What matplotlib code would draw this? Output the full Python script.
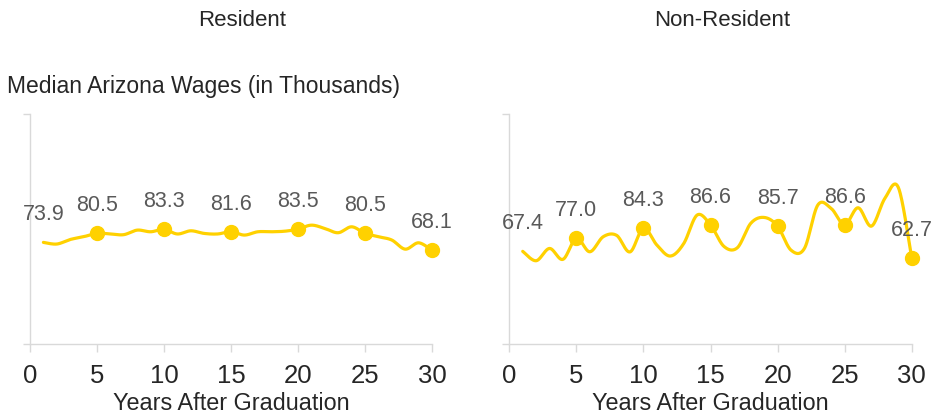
import numpy as np
import matplotlib
matplotlib.use("Agg")
import matplotlib.pyplot as plt

plt.rcParams['font.family'] = ['Liberation Sans', 'DejaVu Sans']

years = list(range(1, 31))
resident = [73.9, 72.7, 76.0, 78.0, 80.5, 80.0, 79.5, 82.8, 81.6, 83.3,
            80.0, 82.3, 80.4, 80.0, 81.6, 79.2, 81.6, 81.6, 82.0, 83.5,
            86.4, 84.0, 80.9, 85.2, 80.5, 78.0, 75.6, 69.0, 73.6, 68.1]
non_resident = [67.4, 60.6, 69.5, 61.6, 77.0, 67.1, 78.0, 79.0, 67.0, 84.3,
                72.0, 64.0, 73.0, 93.7, 86.6, 71.0, 70.0, 87.7, 92.0, 85.7,
                68.3, 69.5, 101.0, 98.5, 86.6, 99.0, 85.7, 105.8, 113.8, 62.7]
label_years = [1, 5, 10, 15, 20, 25, 30]
marker_years = [5, 10, 15, 20, 25, 30]
panel_titles = ["Resident", "Non-Resident"]
y_title = "Median Arizona Wages (in Thousands)"
x_title = "Years After Graduation"
xticks = [0, 5, 10, 15, 20, 25, 30]

LINE = "#FFD100"
SPINE = "#D9D9D9"
LABEL = "#595959"
TEXT = "#262626"


def smooth(x, y, n=30):
    x = np.asarray(x, float)
    y = np.asarray(y, float)
    px = np.concatenate([[x[0]], x, [x[-1]]])
    py = np.concatenate([[y[0]], y, [y[-1]]])
    t = np.linspace(0, 1, n)
    xs, ys = [], []
    for i in range(1, len(px) - 2):
        p0x, p3x = px[i], px[i + 1]
        p0y, p3y = py[i], py[i + 1]
        c1x = p0x + (px[i + 1] - px[i - 1]) / 6
        c1y = p0y + (py[i + 1] - py[i - 1]) / 6
        c2x = p3x - (px[i + 2] - px[i]) / 6
        c2y = p3y - (py[i + 2] - py[i]) / 6
        b0 = (1 - t) ** 3
        b1 = 3 * (1 - t) ** 2 * t
        b2 = 3 * (1 - t) * t ** 2
        b3 = t ** 3
        xs.append(b0 * p0x + b1 * c1x + b2 * c2x + b3 * p3x)
        ys.append(b0 * p0y + b1 * c1y + b2 * c2y + b3 * p3y)
    return np.concatenate(xs), np.concatenate(ys)


W, H = 931, 415
fig = plt.figure(figsize=(W / 100, H / 100), dpi=100)

panels = [(30, 432, resident), (509.3, 911.7, non_resident)]
title_x = [242.5, 722]
bottom_px, top_px = 344.3, 114

for idx, (lpx, rpx, vals) in enumerate(panels):
    ax = fig.add_axes([lpx / W, (H - bottom_px) / H, (rpx - lpx) / W,
                       (bottom_px - top_px) / H])
    ax.set_xlim(0, 30)
    ax.set_ylim(0, 167)
    sx, sy = smooth(years, vals)
    ax.plot(sx, sy, color=LINE, lw=2.3, solid_capstyle='round', clip_on=False)
    my = [vals[years.index(k)] for k in marker_years]
    ax.plot(marker_years, my, 'o', color=LINE, ms=10, clip_on=False)
    for k in label_years:
        v = vals[years.index(k)]
        ax.annotate(f"{v:.1f}", (k, v), xytext=(0, 16), textcoords='offset points',
                    ha='center', va='baseline', fontsize=15.5, color=LABEL,
                    annotation_clip=False)
    for s in ['top', 'right']:
        ax.spines[s].set_visible(False)
    for s in ['left', 'bottom']:
        ax.spines[s].set_color(SPINE)
        ax.spines[s].set_linewidth(1)
    ax.set_xticks(xticks)
    ax.set_xticklabels([str(t) for t in xticks])
    ax.set_yticks([0, 167])
    ax.set_yticklabels([])
    ax.tick_params(axis='x', length=6, width=1, color=SPINE, labelsize=18.5,
                   labelcolor=TEXT, pad=8)
    ax.tick_params(axis='y', length=5, width=1, color=SPINE)
    ax.set_xlabel(x_title, fontsize=16.8, color=TEXT, labelpad=3)
    fig.text(title_x[idx] / W, 1 - 21 / H, panel_titles[idx], ha='center',
             va='center', fontsize=16, color=TEXT)

fig.text(7 / W, 1 - 87 / H, y_title, ha='left', va='center', fontsize=16.5,
         color=TEXT)

fig.savefig("out.png", dpi=100)
